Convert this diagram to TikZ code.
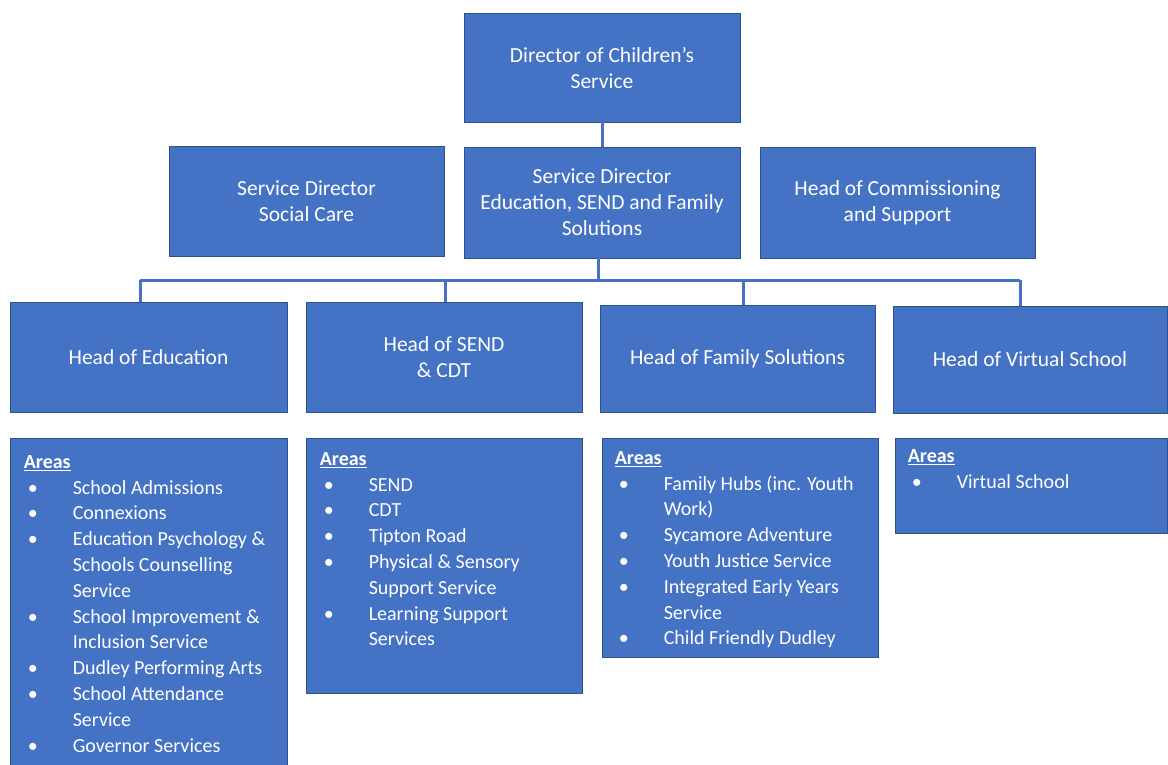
\documentclass[tikz,border=0pt]{standalone}
\usepackage{fontspec}
\setmainfont{Carlito}
\definecolor{boxblue}{RGB}{68,114,196}
\definecolor{boxedge}{RGB}{47,82,143}
\newcommand{\itm}[1]{\hspace*{4pt}\makebox[45pt][l]{\textbullet}#1}
\newcommand{\cnt}[1]{\hspace*{49pt}#1}
\newcommand{\areashead}{\underline{\textbf{Areas}}}
\begin{document}
\begin{tikzpicture}[x=1pt,y=-1pt,
  box/.style={draw=boxedge, line width=0.8pt, fill=boxblue, text=white,
    align=center, inner sep=0pt, font=\fontsize{21.5}{26}\selectfont},
  areabox/.style={draw=boxedge, line width=0.8pt, fill=boxblue, inner sep=0pt},
  listtext/.style={text=white, align=left, inner sep=0pt, anchor=north west,
    font=\fontsize{20}{25.8}\selectfont},
  conn/.style={draw=boxblue, line width=3pt}]
\useasboundingbox (0,0) rectangle (1168,765);

% top level
\node[box, minimum width=276pt, minimum height=109pt] (dir) at (602,67.5)
  {Director of Children’s\\Service};

% service directors
\node[box, minimum width=275pt, minimum height=110pt] (sdSocial) at (306.5,201)
  {Service Director\\Social Care};
\node[box, minimum width=276pt, minimum height=111pt] (sdEdu) at (602,202.5)
  {Service Director\\Education, SEND and Family\\Solutions};
\node[box, minimum width=275pt, minimum height=111pt] (hComm) at (897.5,202.5)
  {Head of Commissioning\\and Support};

% heads of service
\node[box, minimum width=277pt, minimum height=110pt] (hEdu) at (148.5,357)
  {Head of Education};
\node[box, minimum width=276pt, minimum height=110pt] (hSend) at (444,357)
  {Head of SEND\\\& CDT};
\node[box, minimum width=275pt, minimum height=107pt] (hFam) at (737.5,358.5)
  {Head of Family Solutions};
\node[box, minimum width=274pt, minimum height=107pt] (hVirt) at (1030,359.5)
  {Head of Virtual School};

% area boxes
\node[areabox, minimum width=277pt, minimum height=334pt] (aEdu) at (148.5,605) {};
\node[areabox, minimum width=276pt, minimum height=255pt] (aSend) at (444,565.5) {};
\node[areabox, minimum width=276pt, minimum height=219pt] (aFam) at (740,547.5) {};
\node[areabox, minimum width=272pt, minimum height=95pt] (aVirt) at (1031,485.5) {};

\node[listtext, xshift=14pt, yshift=-17.5pt] (lEdu) at (aEdu.north west)
  {\areashead\\
   \itm{School Admissions}\\
   \itm{Connexions}\\
   \itm{Education Psychology \&}\\
   \cnt{Schools Counselling}\\
   \cnt{Service}\\
   \itm{School Improvement \&}\\
   \cnt{Inclusion Service}\\
   \itm{Dudley Performing Arts}\\
   \itm{School Attendance}\\
   \cnt{Service}\\
   \itm{Governor Services}};
\node[listtext, xshift=14pt, yshift=-14.5pt] (lSend) at (aSend.north west)
  {\areashead\\
   \itm{SEND}\\
   \itm{CDT}\\
   \itm{Tipton Road}\\
   \itm{Physical \& Sensory}\\
   \cnt{Support Service}\\
   \itm{Learning Support}\\
   \cnt{Services}};
\node[listtext, xshift=13pt, yshift=-13.5pt] (lFam) at (aFam.north west)
  {\areashead\\
   \itm{Family Hubs (inc. Youth}\\
   \cnt{Work)}\\
   \itm{Sycamore Adventure}\\
   \itm{Youth Justice Service}\\
   \itm{Integrated Early Years}\\
   \cnt{Service}\\
   \itm{Child Friendly Dudley}};
\node[listtext, xshift=13pt, yshift=-11.5pt] (lVirt) at (aVirt.north west)
  {\areashead\\
   \itm{Virtual School}};

% connectors
\coordinate (busL) at (140,280);
\coordinate (busR) at (1020,280);
\coordinate (dSend) at (445,280);
\coordinate (dFam) at (743,280);
\coordinate (upEdu) at (598,280);
\draw[conn] (dir.south) -- (sdEdu.north);
\draw[conn] (upEdu |- sdEdu.south) -- (upEdu);
\draw[conn] (busL) -- (busR);
\draw[conn] (busL) -- (busL |- hEdu.north);
\draw[conn] (dSend) -- (dSend |- hSend.north);
\draw[conn] (dFam) -- (dFam |- hFam.north);
\draw[conn] (busR) -- (busR |- hVirt.north);
\end{tikzpicture}
\end{document}
